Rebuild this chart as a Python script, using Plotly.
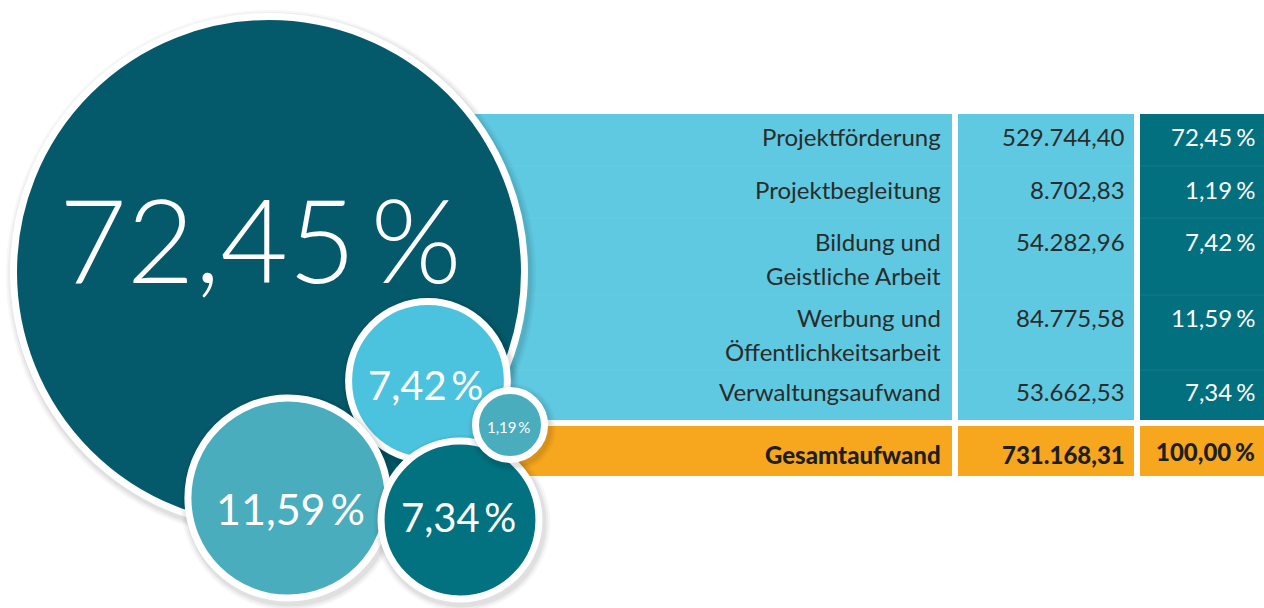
import plotly.graph_objects as go

# ---------------- data ----------------
categories = ["Projektförderung", "Projektbegleitung", "Bildung und<br>Geistliche Arbeit",
              "Werbung und<br>Öffentlichkeitsarbeit", "Verwaltungsaufwand"]
amounts = [529744.40, 8702.83, 54282.96, 84775.58, 53662.53]
shares = [72.45, 1.19, 7.42, 11.59, 7.34]
total_label = "Gesamtaufwand"
total_amount = 731168.31
total_share = 100.00

# ---------------- layout / style config ----------------
W, H = 1264, 608
bubble_centers = [(269, 272), (510, 425), (428, 381), (288, 498), (460, 520)]
bubble_colors = ["#045a6b", "#4aadbd", "#4cc3de", "#4aadbd", "#027280"]
bubble_text_offset = [(-9, -34), (-2, 2), (-3, 4), (2, 10), (-2, -3)]
bubble_font = [117, 15, 40, 43, 40]
bubble_weight = [300, 400, 400, 400, 400]
draw_order = [0, 2, 3, 4, 1]
scale_k = 259 / (72.45 ** 0.5)
min_radius = 38
border = 7

label_right, value_right, pct_right = 943, 1127, 1257
col_label = (460, 952)
col_value = (958, 1134)
col_pct = (1140, 1264)
table_top, table_bottom = 114, 420
total_top, total_bottom = 426, 476
orange_left = 518
row_y = [136, 189, 241, 317, 391]
line_gap = 34
total_y = 454
TSIZE = 24

LIGHT = "#5ec9e0"
DARK = "#03707f"
ORANGE = "#f7a71e"
TXT = "#2b2b2b"
FONT = "Lato"


def de(v, d=2):
    s = f"{v:,.{d}f}"
    return s.replace(",", "X").replace(".", ",").replace("X", ".")


def pct(v, gap=50):
    return de(v) + f'<span style="font-size:{gap}%"> </span>' + "%"


fig = go.Figure()

# table backgrounds
shapes = []
for (x0, x1), col in [(col_label, LIGHT), (col_value, LIGHT), (col_pct, DARK)]:
    shapes.append(dict(type="rect", x0=x0, x1=x1, y0=table_top, y1=table_bottom,
                       fillcolor=col, line_width=0, layer="below", xref="x", yref="y"))
for x0, x1 in [(orange_left, col_label[1]), col_value, col_pct]:
    shapes.append(dict(type="rect", x0=x0, x1=x1, y0=total_top, y1=total_bottom,
                       fillcolor=ORANGE, line_width=0, layer="below", xref="x", yref="y"))
# faint row separators
for ys in [166, 218, 295, 370]:
    shapes.append(dict(type="line", x0=col_label[0], x1=W, y0=ys, y1=ys,
                       line=dict(color="rgba(255,255,255,0.07)", width=1), layer="below"))

# bubbles with soft shadows
for i in draw_order:
    cx, cy = bubble_centers[i]
    R = max(scale_k * shares[i] ** 0.5, min_radius)
    for s, a in [(6, 0.03), (4, 0.04), (2, 0.05)]:
        fig.add_trace(go.Scatter(
            x=[cx + 2], y=[cy + 3], mode="markers", hoverinfo="skip", showlegend=False,
            marker=dict(size=2 * (R + s), color=f"rgba(0,0,0,{a})", line_width=0)))
    fig.add_trace(go.Scatter(
        x=[cx], y=[cy], mode="markers", hoverinfo="skip", showlegend=False,
        marker=dict(size=2 * R - border, color=bubble_colors[i],
                    line=dict(color="white", width=border))))

annotations = []
for i in range(len(shares)):
    cx, cy = bubble_centers[i]
    dx, dy = bubble_text_offset[i]
    annotations.append(dict(x=cx + dx, y=cy + dy, text=pct(shares[i], 45), showarrow=False,
                            xanchor="center", yanchor="middle",
                            font=dict(family=FONT, size=bubble_font[i], color="white",
                                      weight=bubble_weight[i])))

# table text
for i, cat in enumerate(categories):
    for j, line in enumerate(cat.split("<br>")):
        annotations.append(dict(x=label_right, y=row_y[i] + j * line_gap, text=line,
                                showarrow=False, xanchor="right", yanchor="middle",
                                font=dict(family=FONT, size=TSIZE, color=TXT)))
    annotations.append(dict(x=value_right, y=row_y[i], text=de(amounts[i]), showarrow=False,
                            xanchor="right", yanchor="middle",
                            font=dict(family=FONT, size=TSIZE, color=TXT)))
    annotations.append(dict(x=pct_right, y=row_y[i], text=pct(shares[i], 65), showarrow=False,
                            xanchor="right", yanchor="middle",
                            font=dict(family=FONT, size=TSIZE, color="white")))

bold = dict(family=FONT, size=TSIZE, color="#1e1e1e", weight=900)
annotations.append(dict(x=label_right, y=total_y, text=total_label, showarrow=False,
                        xanchor="right", yanchor="middle", font=bold))
annotations.append(dict(x=value_right, y=total_y, text=de(total_amount), showarrow=False,
                        xanchor="right", yanchor="middle", font=bold))
annotations.append(dict(x=pct_right, y=total_y - 3, text=pct(total_share, 65), showarrow=False,
                        xanchor="right", yanchor="middle", font=bold))

fig.update_layout(
    width=W, height=H, margin=dict(l=0, r=0, t=0, b=0),
    paper_bgcolor="white", plot_bgcolor="white",
    xaxis=dict(range=[0, W], visible=False, fixedrange=True),
    yaxis=dict(range=[H, 0], visible=False, fixedrange=True),
    shapes=shapes, annotations=annotations, showlegend=False,
)

fig.write_html("out.html", config={"displayModeBar": False},
               post_script="document.body.style.margin='0';document.body.style.overflow='hidden';")
